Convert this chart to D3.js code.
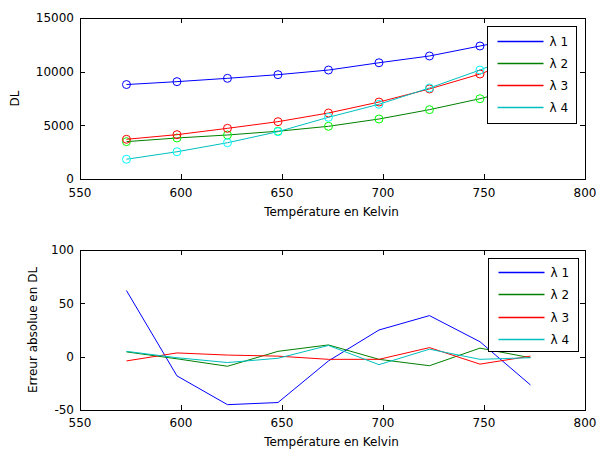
<!DOCTYPE html>
<html><head><meta charset="utf-8">
<script src="https://cdn.jsdelivr.net/npm/d3@7"></script>
<style>
body{margin:0;background:#fff;}
svg{display:block;font-family:"DejaVu Sans",sans-serif;}
</style></head>
<body><svg id="c" width="597" height="450"></svg>
<script>
// Data
const temps = [573, 598, 623, 648, 673, 698, 723, 748, 773];
const seriesNames = ["λ 1", "λ 2", "λ 3", "λ 4"];
const dl1 = [8800, 9070, 9380, 9720, 10150, 10830, 11460, 12390, 13300];
const dl2 = [3480, 3820, 4100, 4450, 4910, 5590, 6460, 7480, 8700];
const dl3 = [3700, 4130, 4720, 5340, 6150, 7170, 8390, 9780, 11500];
const dl4 = [1840, 2540, 3380, 4410, 5750, 6960, 8480, 10150, 12100];
const err1 = [62, -18, -45, -43, -4, 25, 38.5, 14, -26.5];
const err2 = [4.5, -2, -9, 5, 11, -2.5, -8.5, 8, -1];
const err3 = [-4, 3.5, 1.5, 0.5, -2.5, -2.5, 8.5, -7, 0.5];
const err4 = [5, -1, -5.5, -1.5, 10.5, -7.5, 7, -2.5, -1];
const xTicks = [550, 600, 650, 700, 750, 800];
const yTicksTop = [0, 5000, 10000, 15000];
const yTicksBot = [-50, 0, 50, 100];
const xLabel = "Température en Kelvin";
const yLabelTop = "DL";
const yLabelBot = "Erreur absolue en DL";

const lineColors = ["#0000ff", "#008000", "#ff0000", "#00bfbf"];
const markerColors = ["#0000ff", "#00ff00", "#ff0000", "#00ffff"];

const svg = d3.select("#c");

function panel(cfg) {
  const {top, bottom, yDomain, yTicks, data, markers, yLab, yLabX, legendBox, xLabY, tickLabY} = cfg;
  const L = 80, R = 585;
  const x = d3.scaleLinear().domain([550, 800]).range([L, R]);
  const y = d3.scaleLinear().domain(yDomain).range([bottom, top]);
  const g = svg.append("g");
  const clipId = "clip" + top;
  svg.append("clipPath").attr("id", clipId).append("rect")
    .attr("x", L).attr("y", top).attr("width", R - L).attr("height", bottom - top);

  // series
  const line = d3.line().x((d, i) => x(temps[i])).y(d => y(d));
  const sg = g.append("g").attr("clip-path", `url(#${clipId})`);
  data.forEach((arr, k) => {
    sg.append("path").attr("d", line(arr)).attr("fill", "none")
      .attr("stroke", lineColors[k]).attr("stroke-width", 1);
    if (markers) {
      sg.selectAll(null).data(arr).enter().append("circle")
        .attr("cx", (d, i) => x(temps[i])).attr("cy", d => y(d)).attr("r", 4)
        .attr("fill", "none").attr("stroke", markerColors[k]).attr("stroke-width", 1);
    }
  });

  // axes (box with inward ticks on all sides)
  const ax = g.append("g").attr("shape-rendering", "crispEdges");
  const tl = 5;
  ax.append("g").attr("transform", `translate(0,${bottom})`)
    .call(d3.axisBottom(x).tickValues(xTicks).tickSizeInner(-tl).tickSizeOuter(0).tickFormat(""));
  ax.append("g").attr("transform", `translate(0,${top})`)
    .call(d3.axisTop(x).tickValues(xTicks).tickSizeInner(-tl).tickSizeOuter(0).tickFormat(""));
  ax.append("g").attr("transform", `translate(${L},0)`)
    .call(d3.axisLeft(y).tickValues(yTicks).tickSizeInner(-tl).tickSizeOuter(0).tickFormat(""));
  ax.append("g").attr("transform", `translate(${R},0)`)
    .call(d3.axisRight(y).tickValues(yTicks).tickSizeInner(-tl).tickSizeOuter(0).tickFormat(""));
  ax.selectAll("path.domain").attr("stroke", "#000");
  ax.selectAll(".tick line").attr("stroke", "#000");

  // tick labels
  g.selectAll(null).data(xTicks).enter().append("text")
    .attr("x", d => x(d)).attr("y", tickLabY).attr("text-anchor", "middle")
    .attr("font-size", 12).attr("fill", "#000").text(d => d);
  g.selectAll(null).data(yTicks).enter().append("text")
    .attr("x", L - 6).attr("y", d => y(d)).attr("dy", "0.36em").attr("text-anchor", "end")
    .attr("font-size", 12).attr("fill", "#000").text(d => d);

  // axis labels
  g.append("text").attr("x", (L + R) / 2 - 1).attr("y", xLabY).attr("text-anchor", "middle")
    .attr("font-size", 12).attr("fill", "#000").text(xLabel);
  g.append("text").attr("transform", `translate(${yLabX},${(top + bottom) / 2}) rotate(-90)`)
    .attr("text-anchor", "middle").attr("font-size", 12).attr("fill", "#000").text(yLab);

  // legend
  const lb = legendBox;
  const lg = g.append("g");
  lg.append("rect").attr("x", lb.x).attr("y", lb.y).attr("width", lb.w).attr("height", lb.h)
    .attr("fill", "#fff").attr("stroke", "#000").attr("shape-rendering", "crispEdges");
  seriesNames.forEach((nm, k) => {
    const yy = lb.rows[k];
    lg.append("rect").attr("x", lb.x + 10).attr("width", 46).attr("y", yy - 0.75).attr("height", 1.5)
      .attr("fill", lineColors[k]);
    lg.append("text").attr("x", lb.x + 62).attr("y", yy).attr("dy", "0.36em")
      .attr("font-size", 12).attr("fill", "#000").text(nm);
  });
}

panel({
  top: 18, bottom: 179, yDomain: [0, 15000], yTicks: yTicksTop,
  data: [dl1, dl2, dl3, dl4], markers: true, yLab: yLabelTop, yLabX: 19,
  legendBox: {x: 487.5, y: 26.5, w: 89, h: 97, rows: [41.5, 63.5, 85.5, 107.5]},
  xLabY: 216, tickLabY: 197
});
panel({
  top: 250, bottom: 410, yDomain: [-50, 100], yTicks: yTicksBot,
  data: [err1, err2, err3, err4], markers: false, yLab: yLabelBot, yLabX: 37,
  legendBox: {x: 488.5, y: 258.5, w: 90, h: 93, rows: [272.5, 294.5, 317.5, 339.5]},
  xLabY: 446, tickLabY: 427
});
</script>
</body></html>
